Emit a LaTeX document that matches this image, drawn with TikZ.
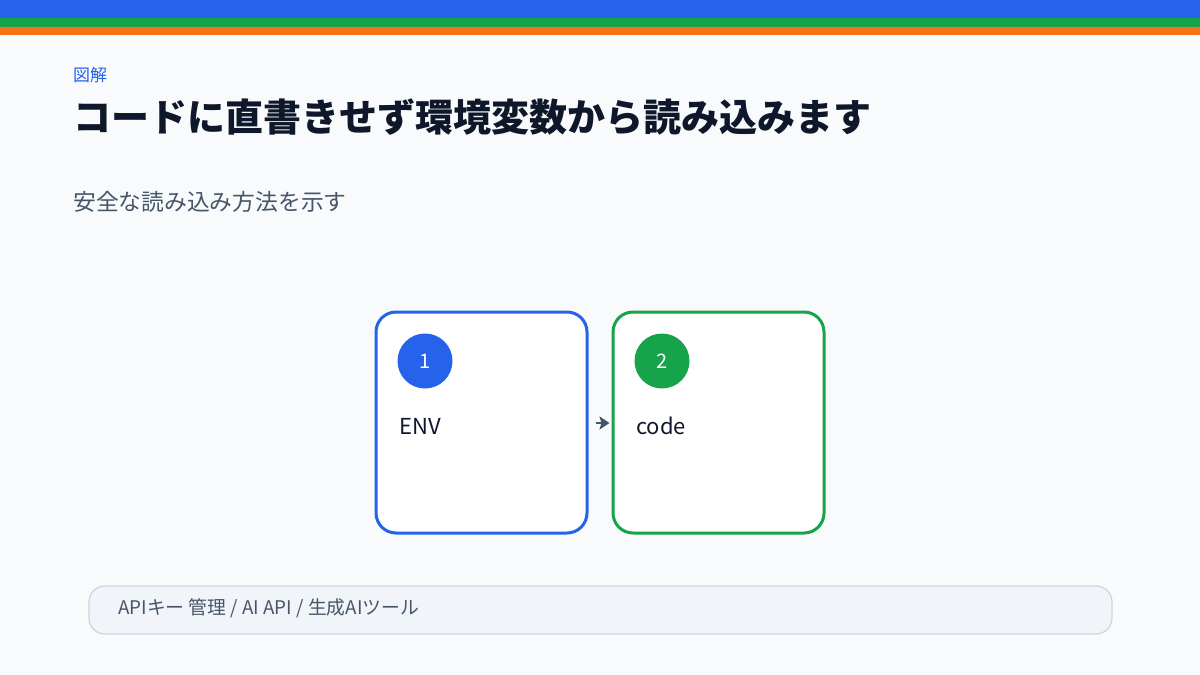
\documentclass[tikz,border=0pt]{standalone}
\usepackage{fontspec}
\setmainfont{Noto Sans CJK JP}
\usepackage{tikz}
\usetikzlibrary{arrows.meta,positioning}

\definecolor{bgcol}{HTML}{F8FAFC}
\definecolor{bluecol}{HTML}{2563EB}
\definecolor{greencol}{HTML}{16A34A}
\definecolor{orangecol}{HTML}{F97316}
\definecolor{inkcol}{HTML}{0F172A}
\definecolor{mutedcol}{HTML}{475569}
\definecolor{footfill}{HTML}{F1F5F9}
\definecolor{footline}{HTML}{CBD5E1}

\tikzset{
    label/.style={anchor=west, inner sep=0pt},
    stepcard/.style={draw, line width=3pt, fill=white, rounded corners=20pt, minimum width=211pt, minimum height=221pt, inner sep=0pt},
    badge/.style={circle, minimum size=55pt, inner sep=0pt, text=white, font=\fontsize{20}{20}\selectfont},
    cardtext/.style={anchor=west, inner sep=0pt, text=inkcol, font=\fontsize{22}{22}\selectfont},
    flow/.style={-{Stealth[length=10pt, width=13pt, inset=2pt]}, draw=mutedcol, fill=mutedcol, line width=2pt}
}

\begin{document}
\begin{tikzpicture}[x=1pt, y=-1pt]
    % Background and bars
    \fill [bgcol] (0,0) rectangle (1200,675);
    \useasboundingbox (0,0) rectangle (1200,675);
    \fill [bluecol]   (0,0)  rectangle (1200,18);
    \fill [greencol]  (0,18) rectangle (1200,27);
    \fill [orangecol] (0,27) rectangle (1200,35);

    % Headings
    \node [label, text=bluecol, font=\fontsize{17}{17}\selectfont] (tag) at (73,75) {図解};
    \node [label, text=inkcol, font=\fontsize{38}{38}\selectfont\bfseries] (title) at (73,117) {コードに直書きせず環境変数から読み込みます};
    \node [label, text=mutedcol, font=\fontsize{22.8}{22.8}\selectfont] (subtitle) at (73,202) {安全な読み込み方法を示す};

    % Nodes {env, code}
    \node [stepcard, draw=bluecol]  (env)  at (481.5,422.5) {};
    \node [stepcard, draw=greencol] (code) at (718.5,422.5) {};
    \node [badge, fill=bluecol]  (b1) at (425,361) {1};
    \node [badge, fill=greencol] (b2) at (662,361) {2};
    \node [cardtext] (envtext)  at (399,426) {ENV};
    \node [cardtext] (codetext) at (636,426) {code};

    % Paths
    \path (env.east |- 0,423) edge [flow, shorten <=7pt, shorten >=2pt] (code.west |- 0,423);

    % Footer
    \node [draw=footline, fill=footfill, line width=1.2pt, rounded corners=16pt, minimum width=1023pt, minimum height=48pt] (foot) at (600.5,610) {};
    \node [label, text=mutedcol, font=\fontsize{18.8}{18.8}\selectfont] (foottext) at (118,608) {APIキー 管理 / AI API / 生成AIツール};
\end{tikzpicture}
\end{document}
